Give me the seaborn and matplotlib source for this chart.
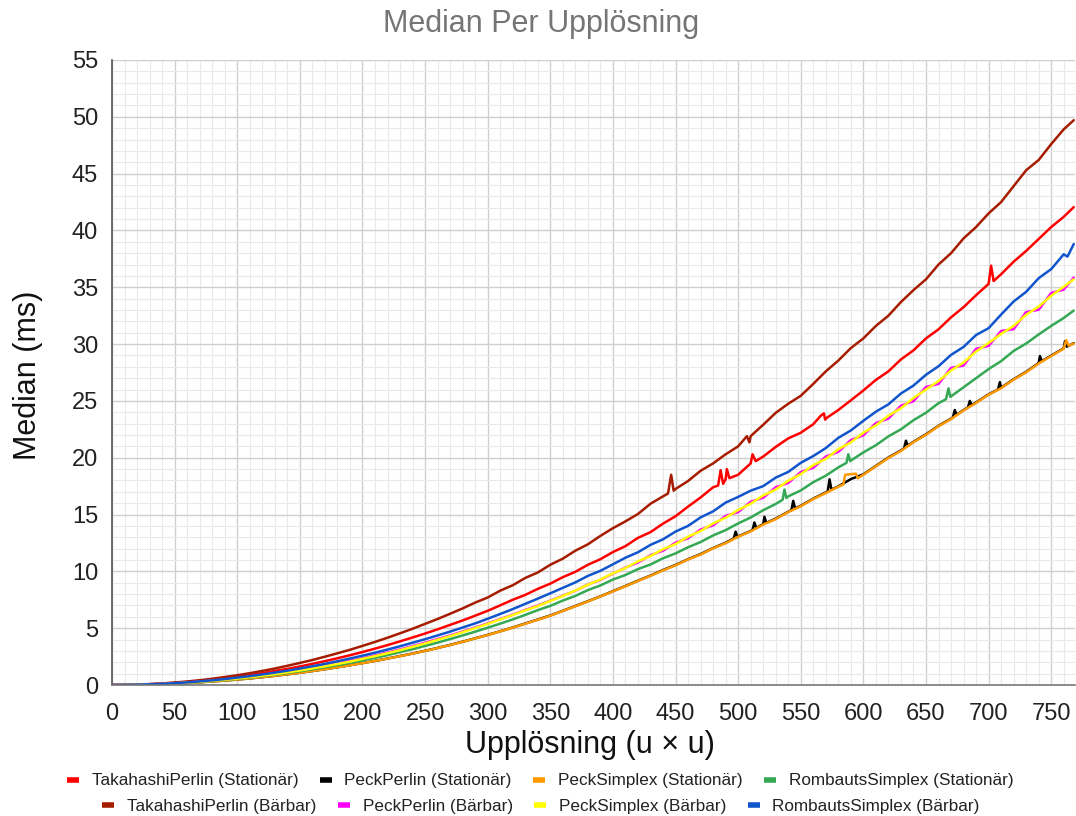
import matplotlib
matplotlib.use("Agg")
import matplotlib.pyplot as plt
from matplotlib.lines import Line2D
from matplotlib.ticker import MultipleLocator
import numpy as np
import pandas as pd
import seaborn as sns

# ---------------- data ----------------
x_grid = list(range(0, 770, 10)) + [768]

series_names = [
    "TakahashiPerlin (Stationär)", "PeckPerlin (Stationär)",
    "PeckSimplex (Stationär)", "RombautsSimplex (Stationär)",
    "TakahashiPerlin (Bärbar)", "PeckPerlin (Bärbar)",
    "PeckSimplex (Bärbar)", "RombautsSimplex (Bärbar)",
]
series_colors = ["#ff0000", "#000000", "#ff9900", "#34a853",
                 "#a61c00", "#ff00ff", "#ffff00", "#1155cc"]

takahashi_stat = [
    0, 0.01, 0.03, 0.07, 0.12, 0.18, 0.26, 0.36, 0.46, 0.59,
    0.73, 0.88, 1.04, 1.23, 1.42, 1.63, 1.86, 2.10, 2.35, 2.62,
    2.90, 3.20, 3.51, 3.84, 4.18, 4.53, 4.90, 5.29, 5.68, 6.10,
    6.53, 7.01, 7.50, 7.93, 8.46, 8.92, 9.49, 9.96, 10.58, 11.07,
    11.70, 12.22, 12.95, 13.45, 14.20, 14.85, 15.70, 16.50, 17.40, 18.10,
    18.50, 19.50, 20.10, 20.95, 21.70, 22.20, 22.95, 23.45, 24.20, 25.05,
    25.92, 26.85, 27.60, 28.65, 29.45, 30.50, 31.30, 32.35, 33.25, 34.30,
    35.30, 36.15, 37.25, 38.20, 39.25, 40.30, 41.20, 42.05]
takahashi_stat_extra = [(484, 17.55), (486, 18.9), (488, 17.7), (491, 19.0), (493, 18.2),
                        (511.5, 20.3), (514, 19.7), (566, 23.7), (568.5, 23.9),
                        (569.5, 23.35), (702, 36.9), (704, 35.55)]

peck_perlin_stat = [
    0, 0.00, 0.02, 0.04, 0.08, 0.12, 0.17, 0.24, 0.31, 0.39,
    0.48, 0.58, 0.69, 0.81, 0.94, 1.08, 1.23, 1.39, 1.56, 1.74,
    1.93, 2.12, 2.33, 2.55, 2.77, 3.01, 3.26, 3.53, 3.81, 4.11,
    4.41, 4.73, 5.06, 5.41, 5.76, 6.12, 6.53, 6.95, 7.37, 7.80,
    8.26, 8.71, 9.18, 9.63, 10.12, 10.56, 11.07, 11.52, 12.05, 12.52,
    13.08, 13.55, 14.15, 14.64, 15.25, 15.77, 16.40, 16.95, 17.48, 18.12,
    18.54, 19.28, 20.02, 20.64, 21.40, 22.06, 22.81, 23.44, 24.19, 24.86,
    25.58, 26.16, 26.91, 27.56, 28.33, 28.99, 29.63, 30.08]
peck_perlin_stat_extra = [
    (496.5, 12.9), (498, 13.5), (499.5, 13.0),
    (511.5, 13.65), (513, 14.3), (514.5, 13.82),
    (519.5, 14.13), (521, 14.8), (522.5, 14.27),
    (542.5, 15.38), (544, 16.2), (545.5, 15.54),
    (571.5, 17.03), (573, 18.1), (574.5, 17.19),
    (632.5, 20.83), (634, 21.5), (635.5, 21.06),
    (671.5, 23.55), (673, 24.2), (674.5, 23.78),
    (683.5, 24.43), (685, 25.0), (686.5, 24.63),
    (707.5, 26.0), (709, 26.65),
    (739.5, 28.3), (741, 28.95), (742.5, 28.5),
    (761, 30.25), (762.5, 29.77)]

peck_simplex_stat = [
    0, 0.00, 0.02, 0.04, 0.08, 0.12, 0.17, 0.24, 0.31, 0.39,
    0.48, 0.58, 0.69, 0.81, 0.94, 1.08, 1.23, 1.39, 1.56, 1.73,
    1.92, 2.12, 2.32, 2.54, 2.76, 3.00, 3.25, 3.52, 3.80, 4.10,
    4.40, 4.72, 5.05, 5.39, 5.74, 6.10, 6.52, 6.93, 7.35, 7.79,
    8.24, 8.69, 9.16, 9.61, 10.09, 10.53, 11.05, 11.48, 12.03, 12.48,
    13.05, 13.52, 14.12, 14.60, 15.22, 15.73, 16.37, 16.90, 17.45, 18.55,
    18.50, 19.25, 19.98, 20.60, 21.37, 22.02, 22.78, 23.40, 24.16, 24.82,
    25.55, 26.12, 26.88, 27.52, 28.30, 28.95, 29.60, 30.05]
peck_simplex_stat_extra = [(584, 17.65), (585.5, 18.5), (594, 18.6), (595.5, 18.2),
                           (762, 30.35), (764, 29.85)]

rombauts_stat = [
    0, 0.01, 0.02, 0.05, 0.09, 0.14, 0.19, 0.26, 0.35, 0.44,
    0.54, 0.65, 0.78, 0.91, 1.06, 1.22, 1.38, 1.56, 1.75, 1.95,
    2.16, 2.39, 2.63, 2.89, 3.15, 3.44, 3.73, 4.04, 4.36, 4.69,
    5.04, 5.40, 5.77, 6.17, 6.59, 6.96, 7.43, 7.84, 8.35, 8.76,
    9.28, 9.68, 10.20, 10.60, 11.15, 11.58, 12.12, 12.58, 13.16, 13.63,
    14.22, 14.74, 15.38, 15.93, 16.60, 17.12, 17.85, 18.42, 19.15, 19.75,
    20.47, 21.10, 21.88, 22.50, 23.30, 23.96, 24.80, 25.40, 26.20, 27.00,
    27.80, 28.50, 29.40, 30.05, 30.85, 31.60, 32.30, 32.95]
rombauts_stat_extra = [(535.5, 16.3), (537, 17.2), (538.5, 16.45),
                       (586.5, 19.55), (588, 20.3), (589.5, 19.7),
                       (666, 25.15), (668, 26.1), (669.5, 25.35)]

takahashi_bar = [
    0, 0.01, 0.03, 0.08, 0.14, 0.22, 0.31, 0.42, 0.55, 0.70,
    0.86, 1.04, 1.24, 1.45, 1.69, 1.94, 2.20, 2.49, 2.79, 3.10,
    3.44, 3.79, 4.16, 4.55, 4.95, 5.38, 5.81, 6.27, 6.74, 7.25,
    7.70, 8.30, 8.78, 9.42, 9.90, 10.58, 11.12, 11.82, 12.38, 13.12,
    13.80, 14.40, 15.05, 15.95, 16.60, 17.25, 17.95, 18.85, 19.50, 20.30,
    21.00, 21.90, 22.90, 23.95, 24.75, 25.45, 26.50, 27.60, 28.55, 29.65,
    30.50, 31.60, 32.50, 33.70, 34.75, 35.70, 37.00, 38.00, 39.30, 40.30,
    41.50, 42.50, 43.90, 45.30, 46.20, 47.60, 48.90, 49.70]
takahashi_bar_extra = [(444, 16.85), (446.5, 18.5), (448.5, 17.1),
                       (507, 21.9), (509, 21.35)]

peck_perlin_bar = [
    0, 0.01, 0.02, 0.05, 0.10, 0.15, 0.22, 0.30, 0.39, 0.49,
    0.60, 0.72, 0.86, 1.00, 1.16, 1.33, 1.51, 1.70, 1.90, 2.12,
    2.35, 2.60, 2.86, 3.13, 3.42, 3.72, 4.04, 4.36, 4.70, 5.06,
    5.42, 5.80, 6.19, 6.60, 6.99, 7.42, 7.86, 8.30, 8.84, 9.25,
    9.80, 10.33, 10.78, 11.42, 11.82, 12.52, 12.92, 13.68, 14.05, 14.88,
    15.22, 16.12, 16.48, 17.40, 17.78, 18.74, 19.12, 20.10, 20.52, 21.55,
    21.98, 23.05, 23.45, 24.58, 24.98, 26.22, 26.50, 27.90, 28.12, 29.58,
    29.85, 31.15, 31.32, 32.82, 33.02, 34.50, 34.80, 35.85]
peck_perlin_bar_extra = []

peck_simplex_bar = [
    0, 0.01, 0.02, 0.05, 0.09, 0.14, 0.21, 0.28, 0.37, 0.46,
    0.57, 0.69, 0.82, 0.96, 1.12, 1.28, 1.46, 1.65, 1.85, 2.06,
    2.30, 2.54, 2.80, 3.07, 3.36, 3.66, 3.98, 4.31, 4.65, 5.01,
    5.38, 5.77, 6.16, 6.57, 6.95, 7.40, 7.83, 8.32, 8.82, 9.28,
    9.82, 10.30, 10.88, 11.35, 11.95, 12.40, 13.05, 13.55, 14.22, 14.72,
    15.40, 15.95, 16.68, 17.20, 17.98, 18.55, 19.35, 19.90, 20.75, 21.35,
    22.20, 22.85, 23.70, 24.35, 25.25, 26.00, 26.75, 27.68, 28.38, 29.35,
    30.10, 30.90, 31.60, 32.58, 33.30, 34.25, 35.05, 35.70]
peck_simplex_bar_extra = []

rombauts_bar = [
    0, 0.01, 0.03, 0.06, 0.10, 0.16, 0.23, 0.32, 0.41, 0.52,
    0.65, 0.78, 0.93, 1.09, 1.26, 1.45, 1.65, 1.86, 2.09, 2.33,
    2.58, 2.84, 3.12, 3.41, 3.72, 4.03, 4.36, 4.70, 5.06, 5.42,
    5.83, 6.25, 6.68, 7.14, 7.60, 8.07, 8.55, 9.03, 9.60, 10.05,
    10.62, 11.20, 11.68, 12.33, 12.82, 13.50, 14.00, 14.75, 15.28, 16.05,
    16.55, 17.10, 17.50, 18.25, 18.75, 19.55, 20.15, 20.85, 21.75, 22.40,
    23.25, 24.05, 24.70, 25.65, 26.35, 27.30, 28.05, 29.05, 29.75, 30.80,
    31.40, 32.60, 33.75, 34.60, 35.80, 36.60, 37.90, 38.80]
rombauts_bar_extra = [(763, 37.7)]

x_ticks_step, y_ticks_step = 50, 5

# ---------------- build long table ----------------
all_values = [takahashi_stat, peck_perlin_stat, peck_simplex_stat, rombauts_stat,
              takahashi_bar, peck_perlin_bar, peck_simplex_bar, rombauts_bar]
all_extras = [takahashi_stat_extra, peck_perlin_stat_extra, peck_simplex_stat_extra,
              rombauts_stat_extra, takahashi_bar_extra, peck_perlin_bar_extra,
              peck_simplex_bar_extra, rombauts_bar_extra]
rows = []
for name, vals, extra in zip(series_names, all_values, all_extras):
    for xv, yv in zip(x_grid, vals):
        rows.append((name, xv, yv))
    for xv, yv in extra:
        rows.append((name, xv, yv))
df = pd.DataFrame(rows, columns=["series", "u", "median"])

# ---------------- plot ----------------
sns.set_theme(style="white")
plt.rcParams["font.family"] = ["Liberation Sans", "DejaVu Sans"]

W, H = 1076, 816
fig = plt.figure(figsize=(W / 100, H / 100), dpi=100)
ax = fig.add_axes([112 / W, 1 - 685 / H, (1075 - 112) / W, (685 - 60) / H])

palette = dict(zip(series_names, series_colors))
sns.lineplot(data=df, x="u", y="median", hue="series", hue_order=series_names,
             palette=palette, estimator=None, sort=True, errorbar=None,
             linewidth=1.8, legend=False, ax=ax)

ax.set_xlim(0, 769)
ax.set_ylim(0, 55)
ax.xaxis.set_major_locator(MultipleLocator(x_ticks_step))
ax.xaxis.set_minor_locator(MultipleLocator(10))
ax.yaxis.set_major_locator(MultipleLocator(y_ticks_step))
ax.yaxis.set_minor_locator(MultipleLocator(1))
ax.grid(which="major", color="#cfcfcf", linewidth=1.0)
ax.grid(which="minor", color="#e9e9e9", linewidth=0.8)
ax.set_axisbelow(True)
ax.tick_params(axis="both", which="both", length=0, labelsize=17, colors="#222222")
ax.tick_params(axis="x", pad=13)
ax.tick_params(axis="y", pad=10)
for s in ["top", "right"]:
    ax.spines[s].set_visible(False)
ax.spines["left"].set_color("#555555")
ax.spines["left"].set_linewidth(1.2)
ax.spines["bottom"].set_color("#777777")
ax.spines["bottom"].set_linewidth(1.2)
ax.set_xlabel("")
ax.set_ylabel("")

fig.text(541 / W, 1 - 24 / H, "Median Per Upplösning", color="#757575",
         fontsize=22, ha="center", va="center")
fig.text(590 / W, 1 - 745 / H, "Upplösning (u × u)", color="#111111",
         fontsize=22, ha="center", va="center")
fig.text(28 / W, 1 - 375 / H, "Median (ms)", color="#111111",
         fontsize=22, ha="center", va="center", rotation=90)

handles = [Line2D([], [], color=c, lw=4, solid_capstyle="butt") for c in series_colors]
leg_kw = dict(ncol=4, loc="center", frameon=False, fontsize=12.3, handlelength=0.7,
              handletextpad=0.75, columnspacing=1.25, borderpad=0, borderaxespad=0)
leg1 = fig.legend(handles[:4], series_names[:4], bbox_to_anchor=(540 / W, 1 - 781 / H), **leg_kw)
leg2 = fig.legend(handles[4:], series_names[4:], bbox_to_anchor=(541 / W, 1 - 806 / H), **leg_kw)
for lg in (leg1, leg2):
    for t in lg.get_texts():
        t.set_color("#222222")

fig.savefig("out.png", dpi=100)
